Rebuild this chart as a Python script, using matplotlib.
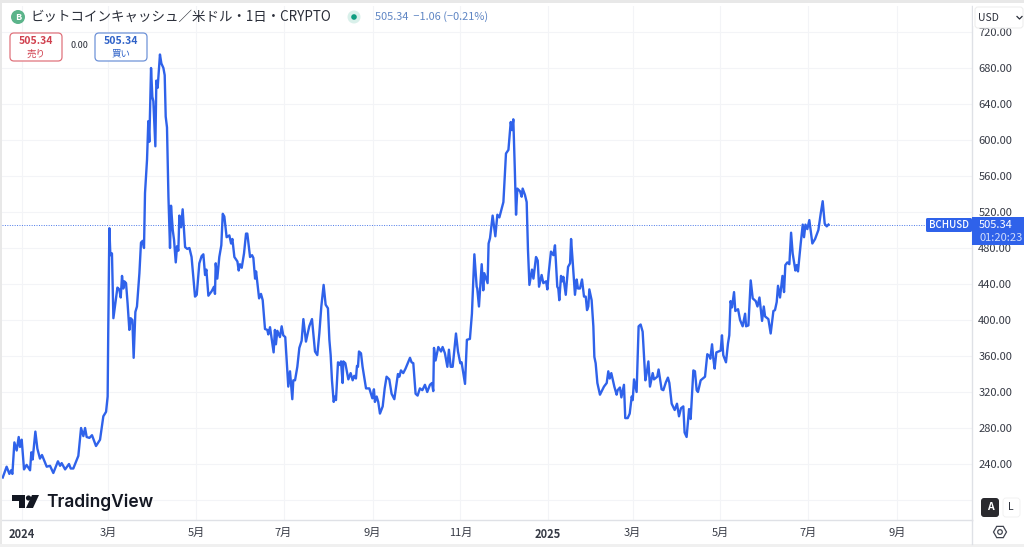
import matplotlib
matplotlib.use("Agg")
import matplotlib.pyplot as plt
from matplotlib.patches import FancyBboxPatch, Rectangle, Circle, Polygon, RegularPolygon
from datetime import date

plt.rcParams['font.family'] = ['Noto Sans CJK JP', 'DejaVu Sans']

# days since 2024-01-01 and BCH price
days = [-13.4, -10.7, -8.8, -7.6, -6.7, -5.3, -3.7, -2.3, -1.4, -0.2, 1.4, 3.2, 5.6, 6.5, 7.4, 9.3, 10.7, 12.5, 13.9, 17.2,
        19.5, 21.8, 25, 26.5, 27.6, 30, 32.7, 33.9, 35.7, 39.2, 41.1, 42.7, 43.9, 45, 46.9, 48.7, 51.5, 54.3, 56.6, 58.5,
        59.6, 60, 60.8, 61.5, 62.6, 63.6, 64.7, 66.4, 67.7, 68.7, 69.6, 70.5, 71.2, 72.4, 73.5, 74.7, 75.6, 76.8, 77.7, 78.9,
        80, 81.7, 82.8, 84, 84.9, 85.6, 87, 87.9, 88.6, 89.8, 90.7, 91.4, 92.8, 93.5, 94.4, 96, 97, 98.4, 99.3, 100,
        100.9, 101.9, 103, 103.7, 104.9, 105.8, 107, 107.9, 108.8, 109.5, 110.7, 111.8, 113.5, 115, 116.5, 118, 120.4, 121.6, 123.4, 125,
        126.2, 127.4, 128.3, 129.7, 132, 133.6, 134.3, 134.8, 135.9, 137.3, 138.7, 139.7, 140.8, 142.4, 144.3, 145.5, 146.4, 147.8, 149.9, 150.8,
        151.7, 152.9, 154.5, 155.9, 156.8, 158.7, 160.1, 161, 162.2, 162.9, 165, 166.3, 167.5, 169.1, 170.7, 171.4, 172.6, 173.7, 175.1, 176,
        176.7, 177.7, 179.5, 180.7, 181.8, 183.2, 185.3, 186.5, 188.1, 188.8, 190, 191.6, 193, 194.6, 195.8, 197.6, 199.9, 201.8, 203.9, 205.5,
        206.9, 208.3, 209.9, 211.3, 212.9, 213.9, 214.8, 215.7, 216.9, 217.8, 218.5, 219.9, 221.3, 222, 223.1, 223.6, 225, 227.1, 228.7, 230.1,
        231.2, 232.4, 233.1, 233.8, 234.5, 235.9, 237, 239.4, 241.7, 243.8, 244.9, 245.6, 246.8, 247.9, 249.1, 251, 252.4, 253.7, 255.6, 257.2,
        259.1, 261.6, 262.6, 263.7, 265.3, 266.9, 270, 271.1, 272.3, 273.9, 275.3, 276.9, 278.6, 280.4, 282, 283.9, 285.3, 286.2, 286.7, 287.8,
        289.7, 291.6, 292.7, 294.3, 296, 297.1, 298.3, 299.7, 302, 303.4, 305, 305.9, 308.3, 309.6, 311.7, 313.1, 314.8, 316.4, 316.8, 318,
        319.9, 321, 321.7, 324, 324.7, 325.7, 327.5, 329.4, 330.8, 332.2, 335, 336.8, 338.5, 340.1, 341, 341.9, 342.9, 343.8, 344.7, 346.6,
        347.7, 348.4, 350, 351.2, 352.1, 353.1, 354.9, 355.9, 357.7, 358.9, 359.8, 361.6, 362.8, 364.7, 365.6, 366.5, 368.1, 369.8, 370.9, 372.5,
        373.2, 373.9, 375.1, 376, 376.7, 378.4, 380, 381.4, 382.1, 383, 384.8, 386, 386.9, 388.3, 389.7, 391.1, 392.3, 393.2, 394.1, 394.8,
        396.4, 397.6, 398.3, 399.2, 400.4, 402.2, 405, 406.9, 408, 409, 410.1, 412.2, 413.8, 414.5, 416.1, 417.1, 418.9, 419.8, 421.5, 422.9,
        424.3, 425, 425.9, 427.7, 429.1, 430.5, 431.9, 433.8, 434.7, 435.9, 437, 438.9, 439.8, 442.1, 443, 445.1, 446.3, 448.1, 449.5, 450.5,
        452.1, 454.2, 455.8, 457.2, 458.6, 460.2, 461.1, 462.5, 464.2, 465.3, 467.2, 468.3, 469.5, 470.4, 472.3, 475.3, 476.9, 478.3, 479, 480.2,
        481.1, 482, 483.2, 486.2, 487.1, 488, 489.9, 491.3, 492.2, 493.1, 494.1, 495.5, 496.4, 498.3, 499.7, 501.5, 503.2, 503.9, 505.5, 507.1,
        508.5, 510.6, 511.8, 513.2, 515, 516.2, 517.1, 519.4, 521, 522.9, 524, 525.2, 526.1, 527.5, 529.2, 530.3, 531.2, 532.6, 534, 535.2,
        536.3, 538.2, 539.1, 540, 541.9, 543.3, 544.2, 545.2, 546.5, 547.9, 550, 551.9, 554.2, 555.8, 557.2, 558.6, 560, 561.2]
prices = [225, 237, 229, 233, 229, 264, 255, 270, 259, 267, 234, 239, 233, 253, 245, 276, 257, 246, 250, 237,
          238, 230, 243, 238, 241, 234, 240, 235, 235, 249, 280, 271, 280, 270, 269, 272, 260, 267, 293, 298,
          315, 385, 502, 472, 474, 402, 415, 436, 434, 425, 449, 435, 443, 441, 418, 389, 402, 400, 358, 409,
          415, 452, 486, 488, 480, 541, 578, 621, 598, 680, 648, 643, 593, 666, 658, 695, 685, 680, 672, 626,
          614, 537, 480, 527, 500, 489, 464, 482, 477, 516, 503, 523, 481, 479, 480, 470, 426, 428, 463, 471,
          473, 450, 456, 427, 432, 437, 429, 463, 446, 470, 483, 518, 515, 492, 494, 485, 490, 470, 465, 455,
          462, 458, 474, 496, 496, 470, 472, 469, 446, 454, 424, 429, 422, 390, 389, 384, 392, 380, 364, 389,
          373, 388, 381, 393, 383, 381, 326, 343, 312, 333, 333, 348, 369, 377, 401, 376, 393, 401, 365, 361,
          385, 415, 439, 417, 413, 378, 361, 333, 309, 315, 311, 353, 350, 354, 330, 354, 352, 334, 341, 333,
          338, 335, 349, 348, 365, 363, 348, 324, 324, 313, 323, 309, 315, 309, 296, 304, 324, 337, 334, 318,
          312, 340, 337, 344, 341, 346, 358, 353, 352, 318, 316, 324, 322, 328, 320, 328, 330, 321, 369, 355,
          370, 365, 370, 363, 348, 367, 348, 348, 385, 365, 352, 353, 329, 378, 379, 407, 473, 437, 435, 415,
          462, 433, 452, 441, 485, 491, 516, 493, 517, 514, 531, 585, 589, 620, 611, 623, 570, 517, 546, 543,
          537, 546, 539, 531, 478, 439, 456, 446, 470, 466, 437, 450, 441, 443, 434, 452, 476, 472, 483, 437,
          435, 422, 449, 443, 448, 428, 459, 463, 490, 470, 428, 445, 435, 435, 445, 426, 426, 411, 415, 434,
          422, 393, 359, 352, 330, 317, 326, 330, 343, 335, 341, 326, 317, 322, 325, 314, 328, 291, 291, 296,
          315, 311, 334, 320, 393, 395, 387, 333, 341, 354, 326, 341, 334, 337, 345, 323, 322, 331, 336, 330,
          307, 300, 307, 293, 302, 304, 275, 270, 301, 290, 344, 343, 322, 320, 333, 337, 362, 360, 357, 373,
          357, 346, 364, 366, 383, 361, 353, 374, 383, 421, 414, 431, 410, 412, 400, 393, 407, 393, 394, 444,
          424, 421, 415, 425, 399, 415, 404, 401, 385, 410, 411, 420, 438, 425, 449, 431, 461, 464, 462, 497,
          474, 455, 461, 454, 485, 506, 492, 506, 501, 511, 485, 490, 500, 518, 532, 507, 504, 506]

last_price = 505.34
price_ticks = [720, 680, 640, 600, 560, 520, 480, 440, 400, 360, 320, 280, 240]
month_dates = [date(2024, 1, 1), date(2024, 3, 1), date(2024, 5, 1), date(2024, 7, 1), date(2024, 9, 1), date(2024, 11, 1),
               date(2025, 1, 1), date(2025, 3, 1), date(2025, 5, 1), date(2025, 7, 1), date(2025, 9, 1)]
month_labels = ['2024', '3月', '5月', '7月', '9月', '11月', '2025', '3月', '5月', '7月', '9月']

BLUE = '#2f62ea'
GRID = '#f3f4f7'
EDGE = '#dfe1e6'
TXT = '#2a2e39'

W, H = 1024, 547
fig = plt.figure(figsize=(W / 100, H / 100), dpi=100, facecolor='white')

# main chart, placed by pixels
L, R, T, B = 2, 972, 6, 520
ax = fig.add_axes([L / W, 1 - B / H, (R - L) / W, (B - T) / H])
ax.set_xlim((L - 22) / 1.437, (R - 22) / 1.437)
ax.set_ylim(680 - (B - 68) / 0.9, 680 - (T - 68) / 0.9)

x_ticks = [(d - date(2024, 1, 1)).days for d in month_dates]
ax.set_xticks(x_ticks)
ax.set_xticklabels(month_labels, fontsize=8, color='#363a45')
for lab, txt in zip(ax.get_xticklabels(), month_labels):
    if len(txt) == 4:
        lab.set_fontweight('bold')
ax.set_yticks(price_ticks + [200])
ax.set_yticklabels(['%.2f' % p for p in price_ticks] + [''], fontsize=8, color='#363a45')
ax.yaxis.tick_right()
ax.tick_params(length=0, pad=4.5)
ax.tick_params(axis='x', pad=6)
ax.grid(True, color=GRID, lw=0.8)
ax.set_axisbelow(True)
for s in ['top', 'left']:
    ax.spines[s].set_visible(False)
for s in ['right', 'bottom']:
    ax.spines[s].set_color(EDGE)
    ax.spines[s].set_linewidth(1)

ax.axhline(last_price, color='#4a78e8', lw=0.7, ls=(0, (1, 1.5)))
ax.plot(days, prices, color=BLUE, lw=1.7, solid_joinstyle='round')

# everything around the chart, in pixel coordinates
ov = fig.add_axes([0, 0, 1, 1], facecolor='none')
ov.set_xlim(0, W)
ov.set_ylim(H, 0)
ov.axis('off')

ov.add_patch(Rectangle((0, 0), W, 3, color='#e8e8e8', lw=0))
ov.add_patch(Rectangle((0, 3), 2, 542, color='#e8e8e8', lw=0))
ov.add_patch(Rectangle((0, 544), W, 3, color='#f0f0f0', lw=0))
ov.plot([972, 972], [520, 544], color=EDGE, lw=1)
ov.add_patch(Rectangle((973, 4), 51, 22, color='white', lw=0, zorder=2))

# header
ov.add_patch(Circle((18, 17), 7, color='#5bb48a', lw=0))
ov.text(18, 17, 'B', color='white', fontsize=6.5, fontweight='bold', ha='center', va='center')
ov.text(30, 17, 'ビットコインキャッシュ／米ドル・1日・CRYPTO', color=TXT, fontsize=9.7, ha='left', va='center')
ov.add_patch(Circle((354, 17), 6.5, color='#d9f0ea', lw=0))
ov.add_patch(Circle((354, 17), 2.8, color='#0f9d80', lw=0))
ov.text(375, 17, '505.34  −1.06 (−0.21%)', color='#5f86c4', fontsize=7.9, ha='left', va='center')

ov.add_patch(FancyBboxPatch((10, 33), 52, 28, boxstyle='round,pad=0,rounding_size=4', fc='white', ec='#e0737c', lw=0.9))
ov.text(36, 41, '505.34', color='#d0404e', fontsize=7.5, fontweight='bold', ha='center', va='center')
ov.text(36, 54, '売り', color='#d0404e', fontsize=6.8, ha='center', va='center')
ov.text(79, 45, '0.00', color=TXT, fontsize=6.5, ha='center', va='center')
ov.add_patch(FancyBboxPatch((95, 33), 52, 28, boxstyle='round,pad=0,rounding_size=4', fc='white', ec='#6f93d8', lw=0.9))
ov.text(121, 41, '505.34', color='#2f62c8', fontsize=7.5, fontweight='bold', ha='center', va='center')
ov.text(121, 54, '買い', color='#2f62c8', fontsize=6.8, ha='center', va='center')

# USD box
ov.add_patch(FancyBboxPatch((975, 7), 48, 21, boxstyle='round,pad=0,rounding_size=3', fc='white', ec='#eeeeee', lw=0.8, zorder=3))
ov.text(978, 18, 'USD', color=TXT, fontsize=7.5, ha='left', va='center', zorder=4)
ov.plot([1017, 1019.5, 1022], [16.5, 19, 16.5], color=TXT, lw=0.9, zorder=4)

# last price tags
ov.add_patch(FancyBboxPatch((926, 218), 46, 14, boxstyle='round,pad=0,rounding_size=1.5', fc='#2f62ea', ec='none', zorder=3))
ov.text(949, 225, 'BCHUSD', color='white', fontsize=7, ha='center', va='center', fontweight='medium', zorder=4)
ov.add_patch(Rectangle((972, 217), 52, 28, fc='#2f62ea', ec='none', zorder=3))
ov.text(979, 225, '505.34', color='white', fontsize=8, ha='left', va='center', zorder=4)
ov.text(979, 238, '01:20:23', color='#cfdcfb', fontsize=8, ha='left', va='center', zorder=4)

# TradingView logo
ov.add_patch(Polygon([(12, 495), (25, 495), (25, 508), (19, 508), (19, 501), (12, 501)], color='#131722', lw=0))
ov.add_patch(Circle((28.5, 498), 2.6, color='#131722', lw=0))
ov.add_patch(Polygon([(32, 495), (39, 495), (33, 508), (26, 508)], color='#131722', lw=0))
ov.text(46, 502, 'TradingView', color='#131722', fontsize=12.5, family='Inter', fontweight='semibold', ha='left', va='center')

# A / L buttons and the settings icon
ov.add_patch(FancyBboxPatch((981, 498), 18, 19, boxstyle='round,pad=0,rounding_size=3', fc='#2a2a2e', ec='none'))
ov.text(990, 507.5, 'A', color='white', fontsize=7.5, fontweight='bold', ha='center', va='center')
ov.add_patch(FancyBboxPatch((1003, 498), 17, 19, boxstyle='round,pad=0,rounding_size=3', fc='white', ec='#f0f0f0', lw=0.6))
ov.text(1011, 507.5, 'L', color=TXT, fontsize=7.5, ha='center', va='center')
ov.add_patch(RegularPolygon((1000, 532), 6, radius=6.5, orientation=1.5708, fc='none', ec='#40444f', lw=0.9))
ov.add_patch(Circle((1000, 532), 2.3, fc='none', ec='#40444f', lw=0.9))

fig.savefig('out.png', dpi=100)
